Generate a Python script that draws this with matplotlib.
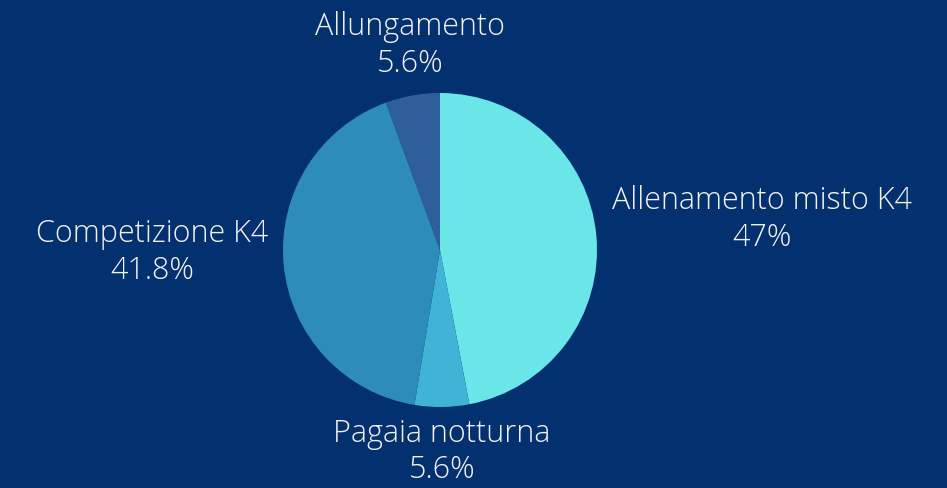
"""Pie chart of training session types."""

import matplotlib.pyplot as plt
import numpy as np

labels = ["Allenamento misto K4", "Pagaia notturna", "Competizione K4", "Allungamento"]
values = [47.0, 5.6, 41.8, 5.6]
pct_labels = ["47%", "5.6%", "41.8%", "5.6%"]
colors = ["#6AE5E8", "#40B3D6", "#2E8CBB", "#2E5F9B"]

bg = "#03316F"
W, H = 947, 488

fig = plt.figure(figsize=(W / 100, H / 100), dpi=100, facecolor=bg)
ax = fig.add_axes([0, 0, 1, 1])
ax.set_facecolor(bg)

cx, cy, r = 440, 238, 157
wedges, _ = ax.pie(
    values, colors=colors, startangle=90, counterclock=False,
    center=(cx, cy), radius=r, frame=True,
    wedgeprops=dict(linewidth=0),
)
ax.set_xlim(0, W)
ax.set_ylim(0, H)
ax.set_aspect("equal")
ax.axis("off")

for w, name, pct in zip(wedges, labels, pct_labels):
    ang = np.deg2rad((w.theta1 + w.theta2) / 2)
    x = cx + 1.1 * r * np.cos(ang)
    y = cy + 1.1 * r * np.sin(ang)
    if abs(np.cos(ang)) > 0.5:
        ha = "left" if np.cos(ang) > 0 else "right"
        va = "center"
        y += 14
    else:
        ha = "center"
        va = "bottom" if np.sin(ang) > 0 else "top"
        if np.sin(ang) < 0:
            y += 5
    ax.text(x, y, f"{name}\n{pct}", ha=ha, va=va, multialignment="center",
            color="#F2F2F2", fontsize=22, fontweight="light",
            family=["Open Sans", "DejaVu Sans"], linespacing=1.2)

fig.savefig("out.png", dpi=100, facecolor=bg)
